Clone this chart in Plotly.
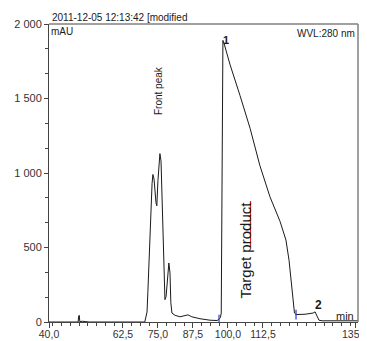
import plotly.graph_objects as go

# ---- data ----
time_min = [36.1, 44.0, 46.5, 46.7, 46.9, 47.1, 48.0, 49.0, 50.5, 70.3, 70.7, 71.1, 71.4, 72.1,
            72.9, 73.2, 73.6, 74.3, 74.6, 75.0, 75.7, 76.1, 76.8, 77.5, 77.9, 78.6, 78.9, 79.3,
            79.6, 80.0, 81.1, 82.9, 84.6, 85.7, 87.1, 90.0, 93.6, 96.1, 96.8, 97.3, 97.6, 97.7,
            97.8, 97.9, 98.2, 98.6, 100.7, 104.3, 107.9, 111.4, 115.0, 118.6, 120.7, 121.8, 122.5,
            123.2, 123.75, 124.3, 127.5, 130.4, 131.1, 131.8, 132.5, 133.6, 146.4]
absorbance_mau = [0, 0, 0, 40, 45, 2, 5, 3, 0, 0, 40, 67, 200, 600,
                  930, 990, 960, 800, 780, 950, 1130, 1080, 600, 150, 170, 330, 396, 330,
                  130, 60, 45, 35, 40, 48, 35, 22, 12, 10, 18, 30, 60, 500,
                  1100, 1680, 1890, 1870, 1730, 1520, 1300, 1050, 840, 675, 550, 415, 280,
                  148, 60, 50, 52, 60, 68, 40, 12, 8, 8]

boundary_time = [96.8, 124.3]
boundary_mau = [15, 50]

x_tick_vals = [36.1, 62.5, 75.0, 87.5, 100.0, 112.5, 145.4]
x_tick_text = ["40,0", "62,5", "75,0", "87,5", "100,0", "112,5", "135,0"]
y_tick_vals = [0, 500, 1000, 1500, 2000]
y_tick_text = ["0", "500", "1 000", "1 500", "2 000"]

# ---- layout geometry (page pixels; page body has an 8px margin) ----
PAGE_W, PAGE_H = 367, 341
OFF = 8
W, H = PAGE_W - OFF, PAGE_H - OFF
L, R, T, B = 49, 358, 24, 322  # plot area in page pixels


def px(x):
    return (x - L) / (R - L)


def py(y):
    return (B - y) / (B - T)


FONT = "Liberation Sans, Arial, sans-serif"

fig = go.Figure()
fig.add_trace(go.Scatter(x=time_min, y=absorbance_mau, mode="lines",
                         line=dict(color="#1a1a1a", width=1), hoverinfo="skip",
                         showlegend=False))
fig.add_trace(go.Scatter(x=boundary_time, y=boundary_mau, mode="markers",
                         marker=dict(symbol="line-ns", size=7,
                                     line=dict(color="#2a3cc8", width=1.2)),
                         showlegend=False, hoverinfo="skip"))

axis_common = dict(showgrid=False, zeroline=False, showline=True, linecolor="#444",
                   linewidth=1, ticks="outside", tickcolor="#444", tickwidth=1,
                   automargin=False, ticklabeloverflow="allow")

fig.update_xaxes(range=[36.1, 146.43], tickmode="array", tickvals=x_tick_vals,
                 ticktext=x_tick_text, ticklen=5, ticklabelstandoff=-3,
                 tickfont=dict(family=FONT, size=10.5, color="#333"),
                 minor=dict(tickmode="linear", tick0=62.5, dtick=3.125, ticklen=3,
                            ticks="outside", tickcolor="#444"),
                 **axis_common)
fig.update_yaxes(range=[0, 2000], tickmode="array", tickvals=y_tick_vals,
                 ticktext=y_tick_text, ticklen=4,
                 tickfont=dict(family=FONT, size=11, color="#333"),
                 minor=dict(tickmode="linear", tick0=0, dtick=500 / 3, ticklen=3,
                            ticks="outside", tickcolor="#444"),
                 **axis_common)

# top and right frame
fig.add_shape(type="line", xref="paper", yref="paper", x0=0, x1=1, y0=1, y1=1,
              line=dict(color="#808080", width=1.5))
fig.add_shape(type="line", xref="paper", yref="paper", x0=1, x1=1, y0=0, y1=1,
              line=dict(color="#808080", width=1.5))
# red spell-check underline
fig.add_shape(type="line", xref="paper", yref="paper", x0=px(250.5), x1=px(250.5),
              y0=py(247), y1=py(201), line=dict(color="#e02020", width=1.2))

ann = []


def add(text, x, y, size=10, xanchor="left", yanchor="middle", angle=0, bold=False):
    ann.append(dict(text=f"<b>{text}</b>" if bold else text, xref="paper", yref="paper",
                    x=px(x), y=py(y), xanchor=xanchor, yanchor=yanchor, showarrow=False,
                    textangle=angle, font=dict(family=FONT, size=size, color="#1a1a1a")))


add("2011-12-05 12:13:42 [modified", 50, 17, size=10)
add("mAU", 49, 32, size=10)
add("WVL:280 nm", 357, 33, size=10, xanchor="right")
add("min", 356, 316, size=11, xanchor="right")
add("1", 225.5, 40, size=11, xanchor="center", bold=True)
add("2", 318, 305, size=12, xanchor="center", bold=True)
add("Front peak", 159, 91, size=10, xanchor="center", angle=-90)
add("Target product", 244.5, 250, size=15, xanchor="center", angle=-90)

fig.update_layout(width=W, height=H,
                  margin=dict(l=L - OFF, r=PAGE_W - R, t=T - OFF, b=PAGE_H - B,
                              autoexpand=False),
                  paper_bgcolor="white", plot_bgcolor="white", annotations=ann,
                  showlegend=False)

fig.write_html("out.html")
